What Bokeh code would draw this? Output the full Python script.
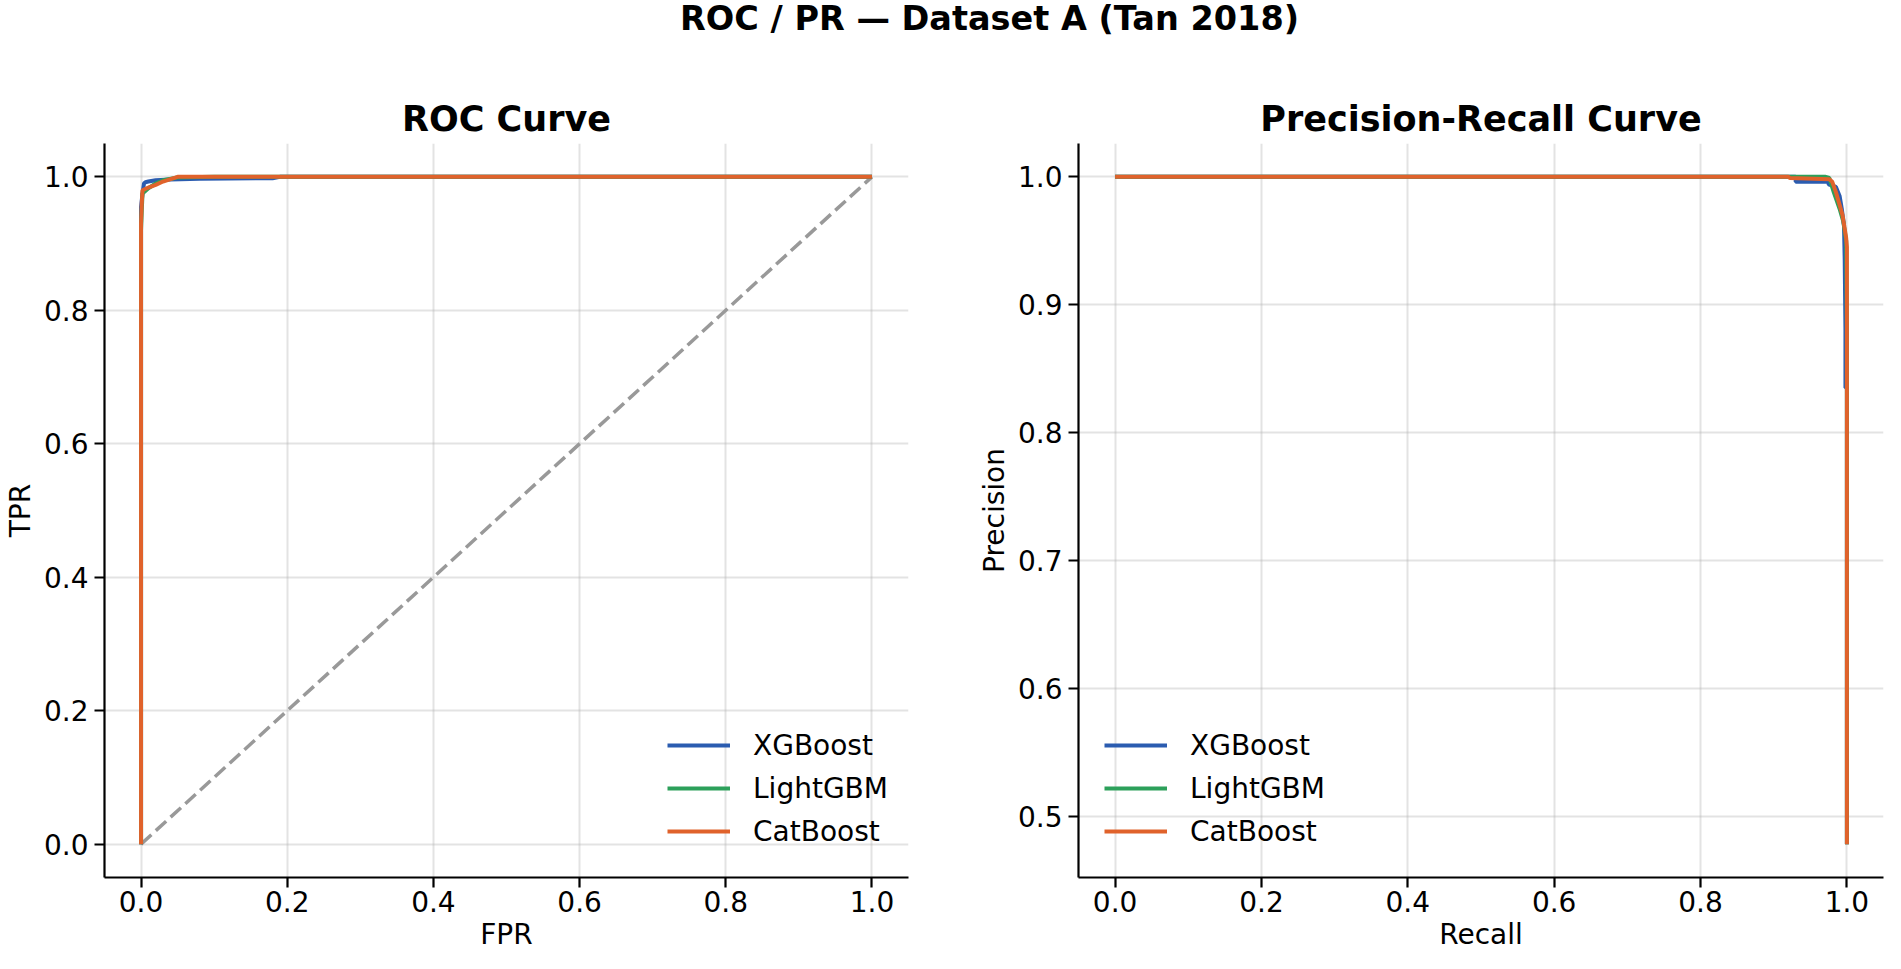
from bokeh.plotting import figure
from bokeh.layouts import column, row
from bokeh.models import (FixedTicker, NumeralTickFormatter, Range1d, Legend,
                          LegendItem, Label)
from bokeh.embed import file_html
from bokeh.resources import INLINE

FONT = "DejaVu Sans"

SUPTITLE = "ROC / PR — Dataset A (Tan 2018)"
ROC_TITLE = "ROC Curve"
PR_TITLE = "Precision-Recall Curve"
ROC_XLABEL = "FPR"
ROC_YLABEL = "TPR"
PR_XLABEL = "Recall"
PR_YLABEL = "Precision"

MODELS = ["XGBoost", "LightGBM", "CatBoost"]
COLORS = ["#2b5cb0", "#2ca05a", "#e0622b"]

# ROC curves
xgb_fpr = [0.0, 0.0, 0.0, 0.002, 0.004, 0.006, 0.01, 0.02, 0.04, 0.08, 0.18, 0.19, 1.0]
xgb_tpr = [0.0, 0.90, 0.955, 0.975, 0.990, 0.992, 0.993, 0.995, 0.996, 0.997, 0.998, 1.0, 1.0]
lgb_fpr = [0.0, 0.0, 0.001, 0.002, 0.005, 0.01, 0.02, 0.03, 0.05, 0.10, 1.0]
lgb_tpr = [0.0, 0.92, 0.95, 0.975, 0.978, 0.983, 0.99, 0.995, 0.999, 1.0, 1.0]
cat_fpr = [0.0, 0.0, 0.001, 0.002, 0.01, 0.02, 0.03, 0.05, 1.0]
cat_tpr = [0.0, 0.93, 0.96, 0.98, 0.984, 0.988, 0.993, 1.0, 1.0]

diag_x = [0.0, 1.0]
diag_y = [0.0, 1.0]

# PR curves
xgb_rec = [0.0, 0.93, 0.93, 0.975, 0.975, 0.985, 0.99, 0.993, 0.996, 0.997, 0.998, 0.998, 1.0, 1.0]
xgb_prec = [1.0, 1.0, 0.996, 0.996, 0.994, 0.992, 0.985, 0.975, 0.962, 0.935, 0.88, 0.835, 0.835, 0.478]
lgb_rec = [0.0, 0.97, 0.976, 0.982, 0.99, 0.995, 0.999, 1.0, 1.0]
lgb_prec = [1.0, 1.0, 0.999, 0.988, 0.975, 0.965, 0.95, 0.88, 0.478]
cat_rec = [0.0, 0.92, 0.922, 0.976, 0.98, 0.985, 0.99, 0.994, 0.999, 1.0, 1.0]
cat_prec = [1.0, 1.0, 0.999, 0.998, 0.996, 0.988, 0.978, 0.970, 0.952, 0.945, 0.478]

roc_ticks = [0.0, 0.2, 0.4, 0.6, 0.8, 1.0]
pr_yticks = [0.5, 0.6, 0.7, 0.8, 0.9, 1.0]

TOTAL_W = 1885
TOP_H = 85
SUB_H = 953 - TOP_H
LEFT_W = 950
RIGHT_W = TOTAL_W - LEFT_W


def style(p, title, xlabel, ylabel, xticks, yticks):
    p.title.text = title
    p.title.align = "center"
    p.title.text_font = FONT
    p.title.text_font_size = "35px"
    p.title.text_font_style = "bold"
    p.title.text_color = "black"
    p.title.standoff = 9
    p.title.offset = 0
    for ax in (p.xaxis[0], p.yaxis[0]):
        ax.axis_line_color = "black"
        ax.axis_line_width = 2.2
        ax.major_tick_line_color = "black"
        ax.major_tick_line_width = 2.2
        ax.major_tick_out = 10
        ax.major_tick_in = 0
        ax.minor_tick_line_color = None
        ax.major_label_text_font = FONT
        ax.major_label_text_font_size = "28px"
        ax.major_label_text_color = "black"
        ax.axis_label_text_font = FONT
        ax.axis_label_text_font_size = "28px"
        ax.axis_label_text_font_style = "normal"
        ax.axis_label_text_color = "black"
        ax.formatter = NumeralTickFormatter(format="0.0")
    p.xaxis[0].axis_label = xlabel
    p.yaxis[0].axis_label = ylabel
    p.xaxis[0].ticker = FixedTicker(ticks=xticks)
    p.yaxis[0].ticker = FixedTicker(ticks=yticks)
    p.xaxis[0].major_label_standoff = 3
    p.yaxis[0].major_label_standoff = 6
    p.xaxis[0].axis_label_standoff = 3
    p.yaxis[0].axis_label_standoff = 4
    for g in (p.xgrid[0], p.ygrid[0]):
        g.grid_line_color = "#b0b0b0"
        g.grid_line_alpha = 0.35
        g.grid_line_width = 2
    p.outline_line_color = None
    p.background_fill_color = "white"
    p.border_fill_color = "white"


def add_legend(p, renderers, loc):
    items = [LegendItem(label=m, renderers=[r]) for m, r in zip(MODELS, renderers)]
    lg = Legend(items=items, location=loc)
    lg.border_line_color = None
    lg.background_fill_alpha = 0
    lg.padding = 0
    lg.margin = 0
    lg.spacing = 9
    lg.glyph_width = 63
    lg.glyph_height = 34
    lg.label_height = 34
    lg.label_standoff = 23
    lg.label_text_font = FONT
    lg.label_text_font_size = "28px"
    lg.label_text_color = "black"
    p.add_layout(lg)


# Title strip
pt = figure(width=TOTAL_W, height=TOP_H, x_range=Range1d(0, TOTAL_W), y_range=Range1d(0, TOP_H),
            x_axis_type=None, y_axis_type=None, toolbar_location=None, output_backend="svg",
            min_border=0)
pt.grid.visible = False
pt.outline_line_color = None
pt.add_layout(Label(x=989, y=TOP_H - 18, text=SUPTITLE, text_align="center", text_baseline="alphabetic",
                    text_font=FONT, text_font_size="33.5px", text_font_style="bold", text_color="black"))

# ROC
p1 = figure(width=LEFT_W, height=SUB_H, x_range=Range1d(-0.05, 1.05), y_range=Range1d(-0.05, 1.05),
            toolbar_location=None, output_backend="svg",
            min_border_left=98, min_border_right=42, min_border_top=58, min_border_bottom=68)
style(p1, ROC_TITLE, ROC_XLABEL, ROC_YLABEL, roc_ticks, roc_ticks)
p1.line(diag_x, diag_y, line_color="#999999", line_width=3.5, line_dash="14 6")
r1 = [p1.line(x, y, line_color=c, line_width=4)
      for (x, y), c in zip([(xgb_fpr, xgb_tpr), (lgb_fpr, lgb_tpr), (cat_fpr, cat_tpr)], COLORS)]
add_legend(p1, r1, (563, 29))

# PR
p2 = figure(width=RIGHT_W, height=SUB_H, x_range=Range1d(-0.05, 1.05), y_range=Range1d(0.452, 1.026),
            toolbar_location=None, output_backend="svg",
            min_border_left=128, min_border_right=2, min_border_top=58, min_border_bottom=68)
style(p2, PR_TITLE, PR_XLABEL, PR_YLABEL, roc_ticks, pr_yticks)
r2 = [p2.line(x, y, line_color=c, line_width=4)
      for (x, y), c in zip([(xgb_rec, xgb_prec), (lgb_rec, lgb_prec), (cat_rec, cat_prec)], COLORS)]
add_legend(p2, r2, (26, 29))

layout = column(pt, row(p1, p2, spacing=0), spacing=0)
open("out.html", "w").write(file_html(layout, INLINE))
